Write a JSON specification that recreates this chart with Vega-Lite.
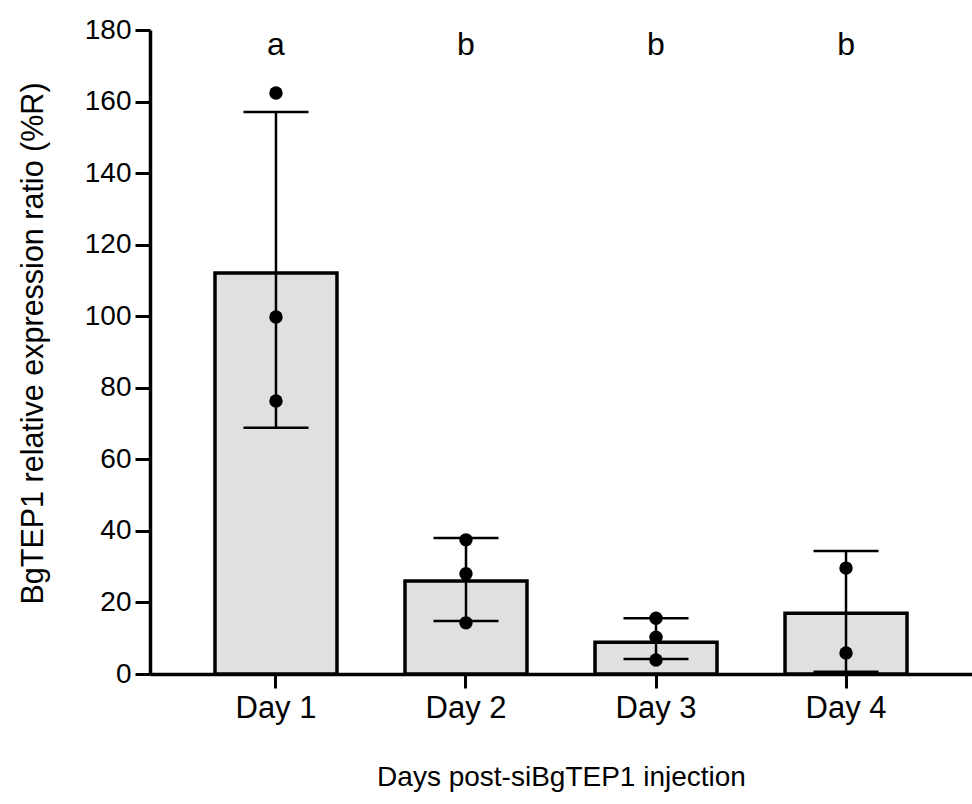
{
  "$schema": "https://vega.github.io/schema/vega-lite/v6.json",
  "autosize": "none",
  "width": 822,
  "height": 644,
  "padding": {"left": 150, "top": 30, "right": 0, "bottom": 130},
  "background": "white",
  "config": {
    "view": {"stroke": null},
    "font": "Liberation Sans"
  },
  "datasets": {
    "summary": [
      {"day": "Day 1", "mean": 112.1, "lo": 68.8, "hi": 157.1, "letter": "a", "lpos": 175.8},
      {"day": "Day 2", "mean": 26.0, "lo": 14.8, "hi": 38.0, "letter": "b", "lpos": 175.8},
      {"day": "Day 3", "mean": 8.9, "lo": 4.2, "hi": 15.6, "letter": "b", "lpos": 175.8},
      {"day": "Day 4", "mean": 17.0, "lo": 0.6, "hi": 34.4, "letter": "b", "lpos": 175.8}
    ],
    "points": [
      {"day": "Day 1", "value": 162.4},
      {"day": "Day 1", "value": 99.8},
      {"day": "Day 1", "value": 76.3},
      {"day": "Day 2", "value": 37.5},
      {"day": "Day 2", "value": 28.0},
      {"day": "Day 2", "value": 14.3},
      {"day": "Day 3", "value": 15.6},
      {"day": "Day 3", "value": 10.3},
      {"day": "Day 3", "value": 3.9},
      {"day": "Day 4", "value": 29.6},
      {"day": "Day 4", "value": 5.9}
    ]
  },
  "encoding": {
    "x": {
      "field": "day", "type": "nominal",
      "scale": {"paddingInner": 0.358, "paddingOuter": 0.342},
      "axis": {"title": "Days post-siBgTEP1 injection", "titleFontSize": 28, "titleFontWeight": "normal", "titleColor": "black", "titleBaseline": "alphabetic", "titleY": 111, "labelAngle": 0, "labelPadding": 5, "labelFontSize": 31, "labelColor": "black", "domainColor": "black", "domainWidth": 3.5, "tickColor": "black", "tickWidth": 3, "tickSize": 14, "grid": false}
    }
  },
  "layer": [
    {
      "data": {"name": "summary"},
      "mark": {"type": "bar", "fill": "#e0e0e0", "stroke": "black", "strokeWidth": 3.5},
      "encoding": {
        "y": {
          "field": "mean", "type": "quantitative",
          "scale": {"domain": [0, 180], "nice": false},
          "axis": {"title": "BgTEP1 relative expression ratio (%R)", "titleFontSize": 30.5, "titleFontWeight": "normal", "titleColor": "black", "titleBaseline": "alphabetic", "titleX": -108, "titleY": 313, "values": [0, 20, 40, 60, 80, 100, 120, 140, 160, 180], "labelPadding": 4, "labelFontSize": 28, "labelColor": "black", "domainColor": "black", "domainWidth": 3.5, "tickColor": "black", "tickWidth": 3, "tickSize": 15, "grid": false}
        }
      }
    },
    {
      "data": {"name": "summary"},
      "mark": {"type": "rule", "color": "black", "strokeWidth": 2.5},
      "encoding": {"y": {"field": "lo", "type": "quantitative"}, "y2": {"field": "hi"}}
    },
    {
      "data": {"name": "summary"},
      "mark": {"type": "tick", "color": "black", "size": 65, "thickness": 2.5, "opacity": 1},
      "encoding": {"y": {"field": "hi", "type": "quantitative"}}
    },
    {
      "data": {"name": "summary"},
      "mark": {"type": "tick", "color": "black", "size": 65, "thickness": 2.5, "opacity": 1},
      "encoding": {"y": {"field": "lo", "type": "quantitative"}}
    },
    {
      "data": {"name": "points"},
      "mark": {"type": "point", "filled": true, "color": "black", "size": 180, "opacity": 1},
      "encoding": {"y": {"field": "value", "type": "quantitative"}}
    },
    {
      "data": {"name": "summary"},
      "mark": {"type": "text", "fontSize": 32, "color": "black", "baseline": "middle"},
      "encoding": {"y": {"field": "lpos", "type": "quantitative"}, "text": {"field": "letter"}}
    }
  ]
}
